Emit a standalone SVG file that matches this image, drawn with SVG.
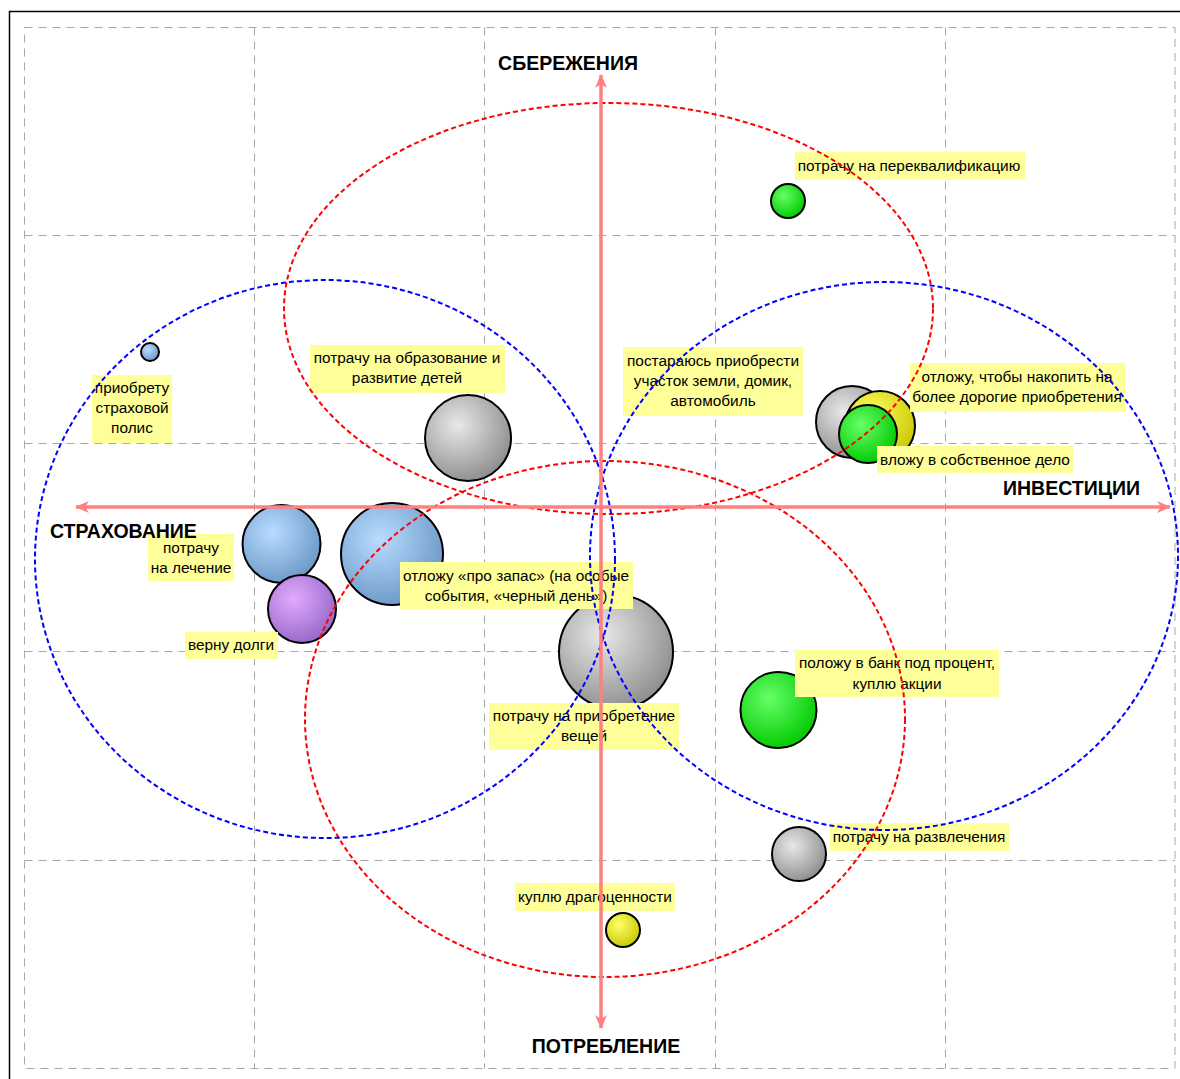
<svg xmlns="http://www.w3.org/2000/svg" width="1180" height="1079" viewBox="0 0 1180 1079">
<style>
.grid{fill:none;stroke:#a8a8a8;stroke-width:1;stroke-dasharray:8,6}
.bub{stroke:#000;stroke-width:2}
.lbl{fill:#ffff99}
.t{font-family:"Liberation Sans",Arial,sans-serif;font-size:15.4px;fill:#000;text-anchor:middle}
.ax{font-family:"Liberation Sans",Arial,sans-serif;font-size:19.5px;font-weight:bold;fill:#000}
.er{fill:none;stroke:#ff0000;stroke-width:2;stroke-dasharray:5,3}
.eb{fill:none;stroke:#0000ff;stroke-width:2;stroke-dasharray:5,3}
.axis{stroke:#ff8080;stroke-width:3.5;fill:none}
</style>
<defs>
<radialGradient id="gGray" cx="0.38" cy="0.35" r="0.7"><stop offset="0" stop-color="#e8e8e8"/><stop offset="1" stop-color="#8c8c8c"/></radialGradient>
<radialGradient id="gBlue" cx="0.38" cy="0.35" r="0.7"><stop offset="0" stop-color="#b8dcff"/><stop offset="1" stop-color="#6a97c6"/></radialGradient>
<radialGradient id="gGreen" cx="0.38" cy="0.35" r="0.7"><stop offset="0" stop-color="#66ff66"/><stop offset="1" stop-color="#00c800"/></radialGradient>
<radialGradient id="gYellow" cx="0.38" cy="0.35" r="0.7"><stop offset="0" stop-color="#ffff66"/><stop offset="1" stop-color="#c8c800"/></radialGradient>
<radialGradient id="gPurple" cx="0.38" cy="0.35" r="0.7"><stop offset="0" stop-color="#e2aaff"/><stop offset="1" stop-color="#9466c8"/></radialGradient>
<marker id="arr" viewBox="0 0 14 12" refX="13" refY="6" markerWidth="14" markerHeight="12" markerUnits="userSpaceOnUse" orient="auto-start-reverse">
<path d="M0,0 L14,6 L0,12 L4,6 z" fill="#ff8080"/>
</marker>
</defs>
<rect x="0" y="0" width="1180" height="1079" fill="#fff"/>
<rect x="9.5" y="11.5" width="1200" height="1100" fill="none" stroke="#000" stroke-width="1.5"/>
<g id="grid">
<rect class="grid" x="24.5" y="27.5" width="1150.5" height="1041"/>
<path class="grid" d="M254.5,27.5V1068.5M484.5,27.5V1068.5M715.5,27.5V1068.5M945.5,27.5V1068.5M24.5,235.5H1175M24.5,443.5H1175M24.5,651.5H1175M24.5,860.5H1175"/>
</g>
<g id="bubbles">
<circle id="b-perekval" class="bub" cx="788" cy="201" r="17" fill="url(#gGreen)"/>
<circle id="b-polis" class="bub" cx="150" cy="352" r="9" fill="url(#gBlue)"/>
<circle id="b-obraz" class="bub" cx="468" cy="438" r="43" fill="url(#gGray)"/>
<circle id="b-gray-r" class="bub" cx="852" cy="422" r="36" fill="url(#gGray)"/>
<circle id="b-yellow-r" class="bub" cx="880" cy="426" r="35" fill="url(#gYellow)"/>
<circle id="b-delo" class="bub" cx="868" cy="434" r="29" fill="url(#gGreen)"/>
<circle id="b-lech" class="bub" cx="281.5" cy="544" r="39" fill="url(#gBlue)"/>
<circle id="b-zapas" class="bub" cx="392" cy="554" r="51" fill="url(#gBlue)"/>
<circle id="b-dolgi" class="bub" cx="302" cy="609" r="34" fill="url(#gPurple)"/>
<circle id="b-veshch" class="bub" cx="616" cy="652" r="57" fill="url(#gGray)"/>
<circle id="b-bank" class="bub" cx="778.5" cy="710" r="38" fill="url(#gGreen)"/>
<circle id="b-razvl" class="bub" cx="799" cy="854" r="27" fill="url(#gGray)"/>
<circle id="b-drag" class="bub" cx="623" cy="930" r="17" fill="url(#gYellow)"/>
</g>
<g id="labels">
<g id="l-perekval"><rect class="lbl" x="795" y="152" width="230" height="28"/><text class="t" x="909" y="171">потрачу на переквалификацию</text></g>
<g id="l-polis"><rect class="lbl" x="92" y="375" width="80" height="68"/><text class="t" x="132" y="393">приобрету</text><text class="t" x="132" y="413">страховой</text><text class="t" x="132" y="433">полис</text></g>
<g id="l-obraz"><rect class="lbl" x="310" y="345" width="195" height="48"/><text class="t" x="407" y="363">потрачу на образование и</text><text class="t" x="407" y="383">развитие детей</text></g>
<g id="l-uchastok"><rect class="lbl" x="623" y="347" width="180" height="69"/><text class="t" x="713" y="366">постараюсь приобрести</text><text class="t" x="713" y="386">участок земли, домик,</text><text class="t" x="713" y="406">автомобиль</text></g>
<g id="l-nakop"><rect class="lbl" x="910" y="363" width="215" height="49"/><text class="t" x="1017" y="382">отложу, чтобы накопить на</text><text class="t" x="1017" y="402">более дорогие приобретения</text></g>
<g id="l-delo"><rect class="lbl" x="877" y="446" width="196" height="27"/><text class="t" x="975" y="465">вложу в собственное дело</text></g>
<g id="l-lech"><rect class="lbl" x="148" y="534" width="86" height="47"/><text class="t" x="191" y="553">потрачу</text><text class="t" x="191" y="573">на лечение</text></g>
<g id="l-zapas"><rect class="lbl" x="400" y="562" width="233" height="47"/><text class="t" x="516" y="581">отложу «про запас» (на особые</text><text class="t" x="516" y="601">события, «черный день»)</text></g>
<g id="l-dolgi"><rect class="lbl" x="185" y="632" width="93" height="27"/><text class="t" x="231" y="650">верну долги</text></g>
<g id="l-bank"><rect class="lbl" x="795" y="650" width="204" height="47"/><text class="t" x="897" y="668">положу в банк под процент,</text><text class="t" x="897" y="689">куплю акции</text></g>
<g id="l-veshch"><rect class="lbl" x="489" y="703" width="190" height="47"/><text class="t" x="584" y="721">потрачу на приобретение</text><text class="t" x="584" y="741">вещей</text></g>
<g id="l-razvl"><rect class="lbl" x="830" y="823" width="179" height="28"/><text class="t" x="919" y="842">потрачу на развлечения</text></g>
<g id="l-drag"><rect class="lbl" x="515" y="883" width="160" height="28"/><text class="t" x="595" y="902">куплю драгоценности</text></g>
</g>
<g id="connectors">
<ellipse class="er" cx="608.5" cy="308.5" rx="324.5" ry="205.5"/>
<ellipse class="er" cx="605" cy="719" rx="300" ry="258"/>
<ellipse class="eb" cx="325" cy="559" rx="290" ry="279"/>
<ellipse class="eb" cx="884" cy="556" rx="294" ry="274"/>
<line class="axis" x1="601" y1="1028" x2="601" y2="75" marker-start="url(#arr)" marker-end="url(#arr)"/>
<line class="axis" x1="76" y1="507" x2="1170" y2="507" marker-start="url(#arr)" marker-end="url(#arr)"/>
</g>
<g id="axis-labels">
<text class="ax" x="568" y="70" text-anchor="middle">СБЕРЕЖЕНИЯ</text>
<text class="ax" x="50" y="538">СТРАХОВАНИЕ</text>
<text class="ax" x="1140" y="495" text-anchor="end">ИНВЕСТИЦИИ</text>
<text class="ax" x="606" y="1053" text-anchor="middle">ПОТРЕБЛЕНИЕ</text>
</g>
</svg>
